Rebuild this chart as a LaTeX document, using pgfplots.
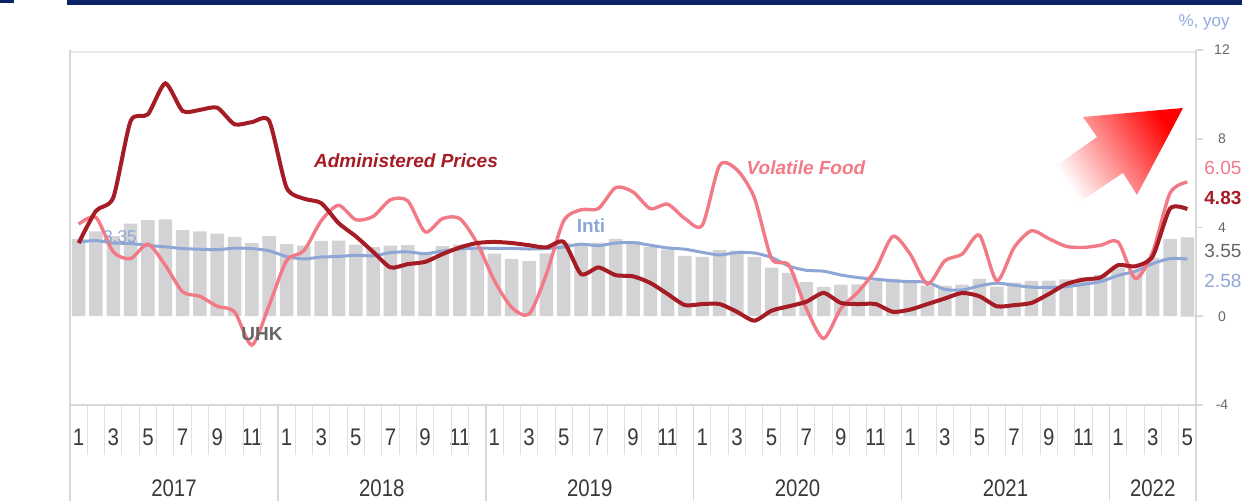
\documentclass[border=0pt]{standalone}
\usepackage{pgfplots}
\usepackage{pgfplotstable}
\pgfplotsset{compat=1.18}
\usepackage{fontspec}
\setmainfont{Liberation Sans}
\newfontfamily\cond[FakeStretch=0.85]{Liberation Sans}
\definecolor{navy}{HTML}{0B2265}
\definecolor{admred}{HTML}{A51C25}
\definecolor{vfpink}{HTML}{F27A86}
\definecolor{coreblue}{HTML}{8EA6D6}
\definecolor{bargray}{HTML}{D3D3D5}
\definecolor{axgray}{HTML}{D8D8D8}
\definecolor{txtgray}{HTML}{3A3A3A}
\definecolor{lblgray}{HTML}{666666}
\definecolor{yoyblue}{HTML}{8FAADC}

\pgfplotstableread{
m uhk core adm vf
1 3.49 3.35 3.30 4.15
2 3.83 3.41 4.75 4.45
3 3.61 3.30 5.35 2.90
4 4.17 3.28 8.80 2.60
5 4.33 3.19 9.10 3.25
6 4.37 3.13 10.5 2.30
7 3.88 3.05 9.25 1.10
8 3.82 3.02 9.30 0.90
9 3.72 3.00 9.40 0.45
10 3.58 3.07 8.65 0.20
11 3.30 3.05 8.75 -1.30
12 3.61 2.95 8.80 0.50
13 3.25 2.69 5.80 2.50
14 3.18 2.58 5.30 2.95
15 3.40 2.67 5.10 4.30
16 3.41 2.69 4.20 5.00
17 3.23 2.75 3.60 4.35
18 3.12 2.72 2.90 4.50
19 3.18 2.87 2.20 5.25
20 3.20 2.90 2.35 5.20
21 2.88 2.82 2.45 3.80
22 3.16 2.94 2.80 4.40
23 3.23 3.03 3.10 4.40
24 3.13 3.07 3.30 3.30
25 2.82 3.06 3.35 1.60
26 2.57 3.06 3.30 0.40
27 2.48 3.03 3.20 0.10
28 2.83 3.05 3.10 1.90
29 3.32 3.12 3.35 4.30
30 3.28 3.25 1.90 4.80
31 3.32 3.18 2.20 4.85
32 3.49 3.30 1.85 5.80
33 3.39 3.32 1.80 5.60
34 3.13 3.20 1.50 4.85
35 3.00 3.08 1.00 5.05
36 2.72 3.02 0.50 4.40
37 2.68 2.88 0.55 4.10
38 2.98 2.76 0.55 6.80
39 2.96 2.87 0.20 6.60
40 2.67 2.85 -0.20 5.35
41 2.19 2.65 0.25 2.60
42 1.96 2.26 0.45 2.30
43 1.54 2.07 0.65 0.35
44 1.32 2.03 1.05 -1.00
45 1.42 1.86 0.60 0.35
46 1.44 1.74 0.55 1.10
47 1.59 1.67 0.55 2.10
48 1.68 1.60 0.20 3.60
49 1.55 1.56 0.30 2.80
50 1.38 1.53 0.55 1.45
51 1.37 1.21 0.80 2.50
52 1.42 1.18 1.05 2.80
53 1.68 1.37 0.90 3.65
54 1.33 1.49 0.45 1.60
55 1.52 1.40 0.50 3.10
56 1.59 1.31 0.60 3.85
57 1.60 1.30 1.00 3.50
58 1.66 1.33 1.45 3.15
59 1.75 1.44 1.65 3.10
60 1.87 1.56 1.75 3.20
61 2.18 1.84 2.30 3.35
62 2.06 2.03 2.25 1.70
63 2.64 2.37 2.70 2.90
64 3.47 2.60 4.85 5.55
65 3.55 2.58 4.83 6.05
}\datatable

\begin{document}
\begin{tikzpicture}
\begin{scope}[x=0.5pt,y=0.5pt]
% top navy bars
\fill[navy] (67,496) rectangle (1242,501);
\fill[navy] (0,498) rectangle (14,501);
% frame lines
\draw[axgray!60, line width=0.6pt] (70,449) -- (1196,449);
\draw[axgray, line width=0.8pt] (70,96) -- (1196,96);
\draw[axgray!70, line width=0.5pt] (1180,184.75) -- (1196,184.75);
\end{scope}

\begin{axis}[at={(35pt,48pt)}, anchor=south west, scale only axis,
  width=563pt, height=177.5pt,
  xmin=0.5, xmax=65.5, ymin=-4, ymax=12,
  axis line style={draw=none},
  clip=false,
  xtick={1,3,...,65},
  xticklabels={1,3,5,7,9,11,1,3,5,7,9,11,1,3,5,7,9,11,1,3,5,7,9,11,1,3,5,7,9,11,1,3,5},
  ytick={-4,0,4,8,12},
  yticklabels={-4,0,4,8,12},
  xtick pos=bottom, ytick pos=right, yticklabel pos=right,
  major tick length=0pt,
  xticklabel style={anchor=center, yshift=-16pt, font=\cond\fontsize{12}{12}\selectfont, text=txtgray},
  yticklabel style={anchor=center, xshift=13pt, font=\fontsize{7}{7}\selectfont, text=lblgray},
]
\addplot[ybar, bar width=0.78, fill=bargray, draw=none] table[x=m, y=uhk] {\datatable};
\addplot[color=coreblue, line width=1.5pt, smooth, tension=0.4] table[x=m, y=core] {\datatable};
\addplot[color=vfpink, line width=1.7pt, smooth, tension=0.45] table[x=m, y=vf] {\datatable};
\addplot[color=admred, line width=2pt, smooth, tension=0.4] table[x=m, y=adm] {\datatable};
\end{axis}

\begin{scope}[x=0.5pt,y=0.5pt]
% left / right frame lines
\draw[axgray, line width=1pt] (70,451) -- (70,0);
\draw[axgray, line width=1pt] (1196,451) -- (1196,0);
% y tick marks
\foreach \yy in {96,184.75,273.5,362.25,451} \draw[axgray, line width=0.8pt] (1196,\yy) -- (1203,\yy);
% month separators
\foreach \k in {1,...,64} \draw[axgray!80, line width=0.5pt] (70+\k*17.3231,96) -- (70+\k*17.3231,46);
% year separators
\foreach \k in {12,24,36,48,60} \draw[axgray, line width=0.8pt] (70+\k*17.3231,96) -- (70+\k*17.3231,0);
% year labels
\foreach \k/\yr in {6.5/2017,18.5/2018,30.5/2019,42.5/2020,54.5/2021,63/2022}
  \node[font=\cond\fontsize{12}{12}\selectfont, text=txtgray] at (70+\k*17.3231-8.66,13) {\yr};

% gradient arrow
\shade[top color=red, bottom color=white, shading angle=-57]
  (1183,393) -- (1083,384) -- (1097,364) -- (1053,333) -- (1078,298) -- (1123,328) -- (1137,306) -- cycle;

% series labels
\node[font=\bfseries\itshape\fontsize{9.5}{10}\selectfont, text=admred] at (406,340) {Administered Prices};
\node[font=\bfseries\itshape\fontsize{9.5}{10}\selectfont, text=vfpink] at (806,333) {Volatile Food};
\node[font=\bfseries\fontsize{9.5}{10}\selectfont, text=coreblue] at (591,275) {Inti};
\node[font=\bfseries\fontsize{9.5}{10}\selectfont, text=lblgray] at (262,167) {UHK};
\node[font=\fontsize{8.5}{9}\selectfont, text=coreblue] at (120,264) {3.35};

% end values
\node[anchor=west, inner sep=0pt, font=\fontsize{9.5}{10}\selectfont, text=vfpink] at (1204,333) {6.05};
\node[anchor=west, inner sep=0pt, font=\bfseries\fontsize{9.5}{10}\selectfont, text=admred] at (1204,303) {4.83};
\node[anchor=west, inner sep=0pt, font=\fontsize{9.5}{10}\selectfont, text=lblgray] at (1204,250) {3.55};
\node[anchor=west, inner sep=0pt, font=\fontsize{9.5}{10}\selectfont, text=coreblue] at (1204,220) {2.58};
\node[font=\fontsize{8.5}{9}\selectfont, text=yoyblue] at (1204,479) {\%, yoy};

\pgfresetboundingbox
\path[use as bounding box] (0,0) rectangle (1242,501);
\end{scope}
\end{tikzpicture}
\end{document}
